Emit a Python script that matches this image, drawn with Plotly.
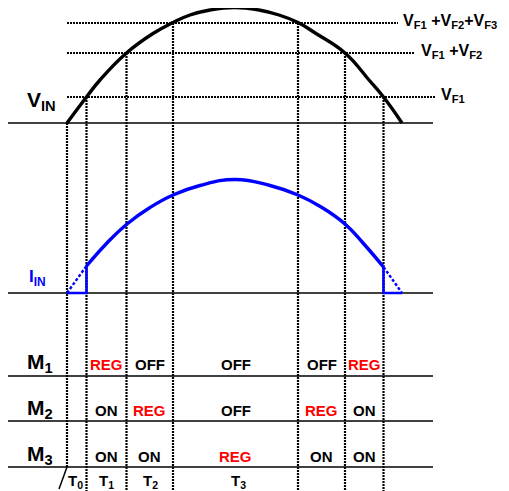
import plotly.graph_objects as go

# ---- data (x = time, y = drawing row) ----
# time marks where V_IN crosses each forward-voltage level
t_marks = [67, 86.5, 126.5, 173, 298, 345, 383.5, 402]
mark_top = [123, 97, 53, 23, 23, 53, 97]          # where each vertical marker starts

level_labels = ["V<sub>F1</sub>", "V<sub>F1</sub> +V<sub>F2</sub>",
                "V<sub>F1</sub> +V<sub>F2</sub>+V<sub>F3</sub>"]
level_y = [97, 53, 23]
level_end = [435, 415, 398]
level_label_x = [439, 419, 401]

vin_t = [67, 86.5, 100, 126.5, 153, 173, 190, 210, 234.5, 259, 279, 298, 316, 345, 369, 383.5, 402]
vin_y = [123, 97, 80, 53, 33.5, 22.5, 15, 10, 7.5, 10, 15, 22.5, 33.5, 53, 80, 97, 123]

iin_t = [86.5, 107, 127, 150, 173, 200, 235, 270, 298, 322, 345, 363, 383.5]
iin_y = [266, 243, 224, 207.5, 195, 185.5, 179.5, 185.5, 195, 207.5, 224, 243, 267]

vin_base = 123
iin_base = 293
row_lines = [376, 421, 467]
row_names = ["M<sub>1</sub>", "M<sub>2</sub>", "M<sub>3</sub>"]
row_text_y = [364, 410, 456]
states = [
    ["REG", "OFF", "OFF", "OFF", "REG"],
    ["ON", "REG", "OFF", "REG", "ON"],
    ["ON", "ON", "REG", "ON", "ON"],
]
period_labels = ["T<sub>0</sub>", "T<sub>1</sub>", "T<sub>2</sub>", "T<sub>3</sub>"]
period_x = [75, 106, 150, 238]
line_left, line_right = 8, 433
bottom = 491

FONT = "Liberation Sans, Arial, sans-serif"
BLUE = "#0000FF"
RED = "#FF0000"
DOT = "2px,1px"
PAGE_OFFSET = 8  # default body margin of the html page

fig = go.Figure()

def seg_trace(xs, ys, color, width, dash=None):
    fig.add_trace(go.Scatter(x=xs, y=ys, mode="lines", hoverinfo="skip",
                             line=dict(color=color, width=width, dash=dash)))

# solid base lines
xs, ys = [], []
for yv in [vin_base, iin_base] + row_lines:
    xs += [line_left, line_right, None]
    ys += [yv, yv, None]
seg_trace(xs, ys, "black", 1.3)

# dotted level lines
xs, ys = [], []
for yv, xe in zip(level_y, level_end):
    xs += [t_marks[0], xe, None]
    ys += [yv, yv, None]
seg_trace(xs, ys, "black", 2, DOT)

# dotted vertical markers
xs, ys = [], []
for i, (tx, ty) in enumerate(zip(t_marks[:-1], mark_top)):
    yb = row_lines[-1] if i == 0 else bottom
    xs += [tx, tx, None]
    ys += [ty, yb, None]
seg_trace(xs, ys, "black", 2.2, DOT)
# slash below T0 marker
seg_trace([t_marks[0], t_marks[0] - 8], [row_lines[-1], bottom - 2], "black", 1.5)

# V_IN arc
fig.add_trace(go.Scatter(x=vin_t, y=vin_y, mode="lines", hoverinfo="skip",
                         line=dict(color="black", width=3.4, shape="spline", smoothing=1.3)))

# I_IN curve
fig.add_trace(go.Scatter(x=iin_t, y=iin_y, mode="lines", hoverinfo="skip",
                         line=dict(color=BLUE, width=3.4, shape="spline", smoothing=1.3)))
# dotted ramps
seg_trace([t_marks[0], iin_t[0]], [iin_base, iin_y[0]], BLUE, 2.4, "3px,2px")
seg_trace([iin_t[-1], t_marks[-1]], [iin_y[-1], iin_base], BLUE, 2.4, "3px,2px")
# solid steps
seg_trace([t_marks[0], iin_t[0], iin_t[0]], [iin_base, iin_base, iin_y[0]], BLUE, 2.6)
seg_trace([iin_t[-1], iin_t[-1], t_marks[-1]], [iin_y[-1], iin_base, iin_base], BLUE, 2.6)

ann = []
def txt(x, y, s, size, color="black", xanchor="center"):
    ann.append(dict(x=x, y=y, text="<b>" + s + "</b>", showarrow=False,
                    xanchor=xanchor, yanchor="middle",
                    font=dict(family=FONT, size=size, color=color)))

txt(25, 101, "V<sub>IN</sub>", 21, xanchor="left")
txt(27, 278, "I<sub>IN</sub>", 17, BLUE, xanchor="left")
for lab, yv, lx in zip(level_labels, level_y, level_label_x):
    txt(lx, yv - 2, lab, 16, xanchor="left")

for name, yv in zip(row_names, row_text_y):
    txt(25, yv - 1, name, 21, xanchor="left")

centers = [(a + b) / 2 for a, b in zip(t_marks[1:-2], t_marks[2:-1])]
for row, yv in zip(states, row_text_y):
    for c, s in zip(centers, row):
        txt(c, yv, s, 15, RED if s == "REG" else "black")

for lab, xv in zip(period_labels, period_x):
    txt(xv, 481, lab, 15)

fig.update_layout(
    width=509 - PAGE_OFFSET, height=491 - PAGE_OFFSET,
    margin=dict(l=0, r=0, t=0, b=0),
    paper_bgcolor="white", plot_bgcolor="white", showlegend=False,
    xaxis=dict(range=[PAGE_OFFSET, 509], visible=False, fixedrange=True),
    yaxis=dict(range=[491, PAGE_OFFSET], visible=False, fixedrange=True),
    annotations=ann,
)
fig.write_html("out.html")
